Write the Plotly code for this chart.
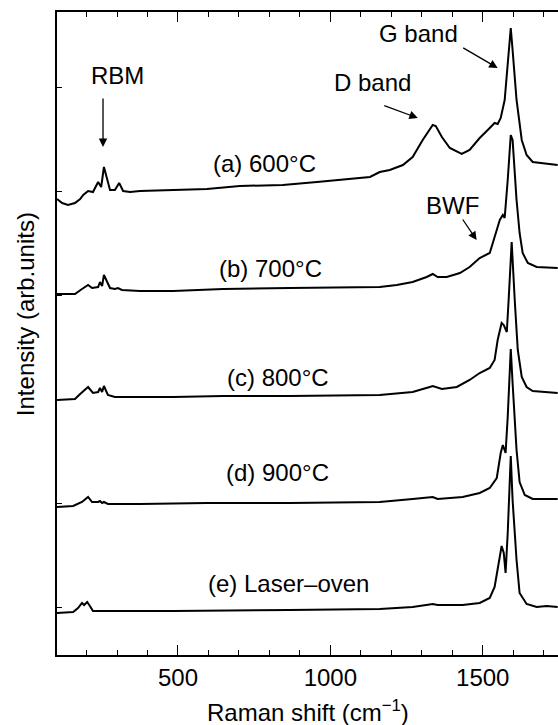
import plotly.graph_objects as go

# ---- data ----
wn_a = [103,120,139,162,179,189,205,221,238,248,257,267,277,293,307,320,343,375,484,595,703,844,956,1064,1130,1162,1195,1238,1270,1303,1336,1346,1366,1392,1431,1457,1490,1523,1539,1549,1559,1572,1582,1592,1598,1611,1628,1644,1664,1710,1746]
int_a = [456,452,450,452,456,460,464,463,473,468,488,475,465,465,472,464,463,464,465,466,469,470,473,476,478,483,485,490,498,515,530,529,518,507,501,505,517,527,532,531,537,555,588,627,605,555,515,500,493,491,490]

wn_b = [103,162,185,205,218,238,244,251,257,267,277,293,303,316,375,484,648,867,1162,1218,1270,1316,1336,1352,1382,1425,1457,1490,1523,1546,1556,1566,1572,1582,1592,1598,1611,1621,1631,1648,1677,1746]
int_b = [361,361,366,370,367,368,373,369,380,373,367,366,367,365,364,364,366,367,368,370,373,378,381,378,378,382,388,397,402,425,435,440,437,475,520,515,455,422,402,392,388,387]

wn_c = [103,162,179,205,221,238,244,251,257,270,293,484,648,867,1162,1270,1326,1336,1366,1415,1457,1490,1523,1539,1549,1562,1569,1579,1585,1595,1605,1615,1628,1644,1664,1710,1746]
int_c = [255,256,261,268,262,263,267,263,269,260,258,258,259,259,260,263,268,269,266,268,275,282,287,295,315,332,330,323,355,413,355,305,278,268,264,263,262]

wn_d = [103,156,185,205,218,238,244,251,257,270,375,595,867,1162,1270,1336,1352,1434,1490,1523,1546,1559,1566,1575,1582,1592,1598,1611,1621,1638,1664,1710,1746]
int_d = [148,149,153,158,153,153,154,152,153,151,151,152,152,153,156,158,156,158,162,167,177,202,210,202,238,306,272,205,173,160,156,156,156]

wn_e = [103,156,172,185,192,202,211,221,267,484,867,1162,1270,1336,1352,1434,1490,1523,1539,1549,1562,1569,1575,1582,1592,1598,1611,1621,1644,1677,1710,1746]
int_e = [42,43,47,52,50,53,49,44,44,44,45,46,48,51,50,50,52,57,68,88,109,102,82,122,199,155,95,62,51,48,49,48]

series = [
    ("(a) 600°C", wn_a, int_a),
    ("(b) 700°C", wn_b, int_b),
    ("(c) 800°C", wn_c, int_c),
    ("(d) 900°C", wn_d, int_d),
    ("(e) Laser–oven", wn_e, int_e),
]

FONT = "Liberation Sans, Arial, Helvetica, sans-serif"
FS = 24

fig = go.Figure()
for name, xs, ys in series:
    fig.add_trace(go.Scatter(x=xs, y=ys, mode="lines", name=name,
                             line=dict(color="black", width=2),
                             showlegend=False, hoverinfo="skip"))

ann = []
# curve labels
label_pos = [(785, 492), (805, 387), (828, 278), (828, 183), (864, 72)]
for (name, _, _), (lx, ly) in zip(series, label_pos):
    ann.append(dict(x=lx, y=ly, xref="x", yref="y", text=name, showarrow=False,
                    font=dict(size=FS, color="black", family=FONT)))

# band texts
texts = [("RBM", 300, 580), ("G band", 1290, 622), ("D band", 1139, 573), ("BWF", 1402, 450)]
for t, tx, ty in texts:
    ann.append(dict(x=tx, y=ty, xref="x", yref="y", text=t, showarrow=False,
                    font=dict(size=FS, color="black", family=FONT)))

# arrows (head, tail)
arrows = [((254, 508), (254, 558)), ((1549, 587), (1431, 608)),
          ((1287, 537), (1172, 550)), ((1480, 415), (1431, 437))]
for (hx, hy), (tx, ty) in arrows:
    ann.append(dict(x=hx, y=hy, ax=tx, ay=ty, xref="x", yref="y", axref="x", ayref="y",
                    text="", showarrow=True, arrowhead=2, arrowsize=1.3, arrowwidth=1.3,
                    arrowcolor="black", standoff=0, startstandoff=0))

# axis titles
ann.append(dict(x=0.5, y=-0.087, xref="paper", yref="paper", text="Raman shift (cm<sup>−1</sup>)",
                showarrow=False, xanchor="center", yanchor="middle",
                font=dict(size=FS, color="black", family=FONT)))
ann.append(dict(x=-0.064, y=0.53, xref="paper", yref="paper", text="Intensity (arb.units)",
                showarrow=False, textangle=-90, xanchor="center", yanchor="middle",
                font=dict(size=FS, color="black", family=FONT)))

fig.update_layout(
    width=558, height=725,
    margin=dict(l=57, r=0, t=12, b=70),
    paper_bgcolor="white", plot_bgcolor="white",
    annotations=ann,
    font=dict(family=FONT, color="black", size=FS),
    xaxis=dict(range=[103, 1747], tickvals=[500, 1000, 1500], ticks="inside", ticklen=10,
               tickwidth=1.3, tickcolor="black", showline=True, linecolor="black", linewidth=1.5,
               mirror="ticks", showgrid=False, zeroline=False,
               minor=dict(dtick=100, tick0=0, ticks="inside", ticklen=5, tickwidth=1.3, tickcolor="black"),
               tickfont=dict(size=FS, color="black", family=FONT)),
    yaxis=dict(range=[0, 643], showticklabels=False, ticks="inside", ticklen=5, tickwidth=1.3,
               tickcolor="black", tick0=48, dtick=104,
               showline=True, linecolor="black", linewidth=1.5,
               showgrid=False, zeroline=False),
)

fig.write_html("out.html")
